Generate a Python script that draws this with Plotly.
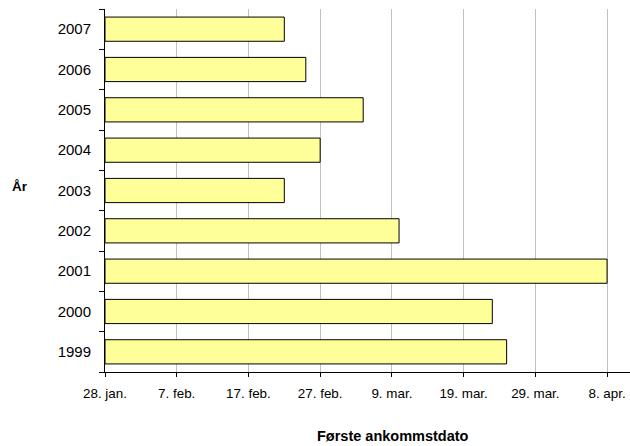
import plotly.graph_objects as go
import pandas as pd

years = ['1999', '2000', '2001', '2002', '2003', '2004', '2005', '2006', '2007']
# first arrival date (month-day), plotted on a common reference year
arrival_month_day = ['03-25', '03-23', '04-08', '03-10', '02-22', '02-27', '03-05', '02-25', '02-22']
ref_year = '2001'
axis_start = '2001-01-28'
tick_dates = ['2001-01-28', '2001-02-07', '2001-02-17', '2001-02-27',
              '2001-03-09', '2001-03-19', '2001-03-29', '2001-04-08']
tick_labels = ['28. jan.', '7. feb.', '17. feb.', '27. feb.',
               '9. mar.', '19. mar.', '29. mar.', '8. apr.']

start = pd.Timestamp(axis_start)
arrivals = [pd.Timestamp(f'{ref_year}-{md}') for md in arrival_month_day]
durations_ms = [(a - start).total_seconds() * 1000 for a in arrivals]
range_end = start + pd.Timedelta(days=73.2)

fig = go.Figure()
fig.add_trace(go.Bar(
    y=years,
    x=durations_ms,
    base=axis_start,
    orientation='h',
    marker=dict(color='#FFFF99', line=dict(color='#000000', width=1)),
    hoverinfo='skip',
))

W, H = 630, 446
ML, MR, MT, MB = 105, 0, 9, 74
PW, PH = W - ML - MR, H - MT - MB

def px_x(x):
    return (x - ML) / PW

def px_y(y):
    return (H - MB - y) / PH

font_family = 'Liberation Sans, Arial, sans-serif'
fig.update_layout(
    width=W, height=H,
    margin=dict(l=ML, r=MR, t=MT, b=MB),
    paper_bgcolor='white', plot_bgcolor='white',
    showlegend=False,
    bargap=0.4,
    font=dict(family=font_family, size=13, color='#000000'),
    xaxis=dict(
        type='date',
        range=[start, range_end],
        tickvals=tick_dates,
        ticktext=tick_labels,
        showgrid=True, gridcolor='#C0C0C0', gridwidth=1,
        showline=True, linecolor='#000000', linewidth=1,
        ticks='outside', ticklen=4, tickcolor='#000000',
        tickfont=dict(size=13.4),
        ticklabelstandoff=5,
        zeroline=False,
    ),
    yaxis=dict(
        type='category',
        categoryorder='array', categoryarray=years,
        showgrid=False,
        showline=True, linecolor='#000000', linewidth=1,
        ticks='outside', ticklen=5, tickcolor='#000000',
        tickson='boundaries',
        tickfont=dict(size=15),
        ticklabelstandoff=10,
    ),
)

fig.add_annotation(text='<b>År</b>', xref='paper', yref='paper',
                   x=px_x(19.5), y=px_y(186), xanchor='center', yanchor='middle',
                   showarrow=False, font=dict(size=13.5))
fig.add_annotation(text='<b>Første ankommstdato</b>', xref='paper', yref='paper',
                   x=px_x(393), y=px_y(436), xanchor='center', yanchor='middle',
                   showarrow=False, font=dict(size=14.5))

fig.write_html('out.html',
               config={'displayModeBar': False},
               post_script="document.body.style.margin='0';document.body.style.overflow='hidden';")
